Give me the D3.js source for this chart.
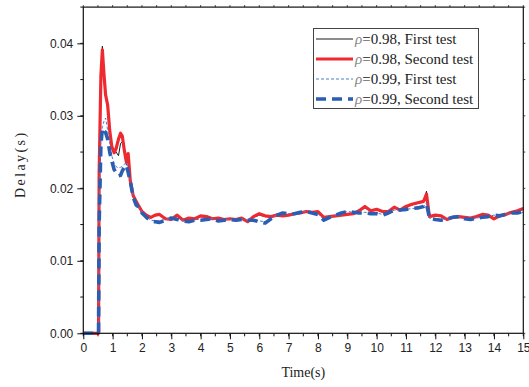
<!DOCTYPE html>
<html>
<head>
<meta charset="utf-8">
<script src="https://cdn.jsdelivr.net/npm/d3@7"></script>
<style>
  html, body { margin: 0; padding: 0; background: #fff; }
  svg { display: block; }
</style>
</head>
<body>
<svg id="chart" width="529" height="387"></svg>
<script>
// Sample times (s)
const time = [0, 0.52, 0.54, 0.6, 0.65, 0.7, 0.76, 0.83, 0.9, 0.97, 1.05, 1.12, 1.2, 1.27, 1.33, 1.4, 1.47, 1.53, 1.6, 1.7, 1.8, 1.9, 2.0, 2.15, 2.3, 2.45, 2.6, 2.8, 3.0, 3.2, 3.4, 3.6, 3.8, 4.0, 4.2, 4.4, 4.6, 4.8, 5.0, 5.2, 5.4, 5.6, 5.8, 6.0, 6.2, 6.4, 6.6, 6.8, 7.0, 7.2, 7.4, 7.6, 7.8, 8.0, 8.2, 8.4, 8.6, 8.8, 9.0, 9.2, 9.4, 9.6, 9.8, 10.0, 10.2, 10.4, 10.6, 10.8, 11.0, 11.2, 11.4, 11.6, 11.7, 11.8, 12.0, 12.2, 12.4, 12.6, 12.8, 13.0, 13.2, 13.4, 13.6, 13.8, 14.0, 14.2, 14.4, 14.6, 14.8, 15.0];

// Delay (s) for rho = 0.98, first test
const rho98First = [0, 0, 0.023, 0.036, 0.0396, 0.0362, 0.0330, 0.0310, 0.0276, 0.0255, 0.0248, 0.0250, 0.0245, 0.0262, 0.0264, 0.0250, 0.0232, 0.0243, 0.0208, 0.0188, 0.0180, 0.0173, 0.0167, 0.0162, 0.0159, 0.0162, 0.0163, 0.0157, 0.0157, 0.0162, 0.0156, 0.0158, 0.0158, 0.0161, 0.0160, 0.0158, 0.0158, 0.0157, 0.0158, 0.0157, 0.0158, 0.0155, 0.0160, 0.0163, 0.0161, 0.0161, 0.0163, 0.0162, 0.0163, 0.0164, 0.0166, 0.0167, 0.0167, 0.0167, 0.0160, 0.0161, 0.0162, 0.0163, 0.0164, 0.0165, 0.0168, 0.0173, 0.0169, 0.0170, 0.0168, 0.0168, 0.0173, 0.0170, 0.0174, 0.0177, 0.0179, 0.0181, 0.0196, 0.0161, 0.0162, 0.0161, 0.0157, 0.0160, 0.0160, 0.0160, 0.0159, 0.0161, 0.0163, 0.0163, 0.0159, 0.0162, 0.0164, 0.0166, 0.0168, 0.0171];

// Delay (s) for rho = 0.98, second test
const rho98Second = [0, 0, 0.022, 0.0355, 0.0391, 0.0360, 0.0329, 0.0315, 0.0280, 0.0258, 0.0249, 0.0255, 0.0268, 0.0276, 0.0272, 0.0252, 0.0236, 0.0248, 0.0211, 0.0190, 0.0182, 0.0175, 0.0168, 0.0163, 0.0160, 0.0163, 0.0164, 0.0158, 0.0157, 0.0163, 0.0156, 0.0159, 0.0158, 0.0162, 0.0161, 0.0158, 0.0159, 0.0157, 0.0158, 0.0157, 0.0159, 0.0154, 0.0161, 0.0165, 0.0162, 0.0161, 0.0163, 0.0162, 0.0163, 0.0165, 0.0166, 0.0168, 0.0167, 0.0168, 0.0160, 0.0161, 0.0162, 0.0163, 0.0164, 0.0165, 0.0169, 0.0175, 0.0169, 0.0171, 0.0168, 0.0168, 0.0174, 0.0170, 0.0175, 0.0178, 0.0180, 0.0182, 0.0192, 0.0161, 0.0163, 0.0162, 0.0157, 0.0160, 0.0161, 0.0160, 0.0159, 0.0161, 0.0164, 0.0163, 0.0158, 0.0162, 0.0164, 0.0167, 0.0169, 0.0172];

// Delay (s) for rho = 0.99, first test
const rho99First = [0, 0, 0.018, 0.0270, 0.0285, 0.0292, 0.0297, 0.0280, 0.0262, 0.0245, 0.0235, 0.0230, 0.0228, 0.0229, 0.0230, 0.0233, 0.0236, 0.0226, 0.0212, 0.0190, 0.0178, 0.0174, 0.0167, 0.0161, 0.0156, 0.0155, 0.0155, 0.0157, 0.0159, 0.0158, 0.0156, 0.0155, 0.0157, 0.0157, 0.0158, 0.0158, 0.0156, 0.0157, 0.0157, 0.0157, 0.0158, 0.0156, 0.0157, 0.0155, 0.0154, 0.0159, 0.0163, 0.0166, 0.0165, 0.0166, 0.0167, 0.0168, 0.0166, 0.0165, 0.0157, 0.0160, 0.0163, 0.0166, 0.0168, 0.0167, 0.0166, 0.0167, 0.0166, 0.0166, 0.0164, 0.0166, 0.0170, 0.0170, 0.0171, 0.0172, 0.0173, 0.0175, 0.0180, 0.0159, 0.0158, 0.0157, 0.0158, 0.0160, 0.0161, 0.0158, 0.0158, 0.0159, 0.0160, 0.0161, 0.0163, 0.0162, 0.0164, 0.0166, 0.0166, 0.0167];

// Delay (s) for rho = 0.99, second test
const rho99Second = [0, 0, 0.015, 0.0260, 0.0283, 0.0280, 0.0277, 0.0268, 0.0250, 0.0238, 0.0226, 0.0222, 0.0217, 0.0218, 0.0224, 0.0229, 0.0232, 0.0222, 0.0210, 0.0188, 0.0177, 0.0174, 0.0166, 0.0160, 0.0155, 0.0154, 0.0153, 0.0156, 0.0159, 0.0157, 0.0155, 0.0154, 0.0156, 0.0156, 0.0157, 0.0158, 0.0155, 0.0156, 0.0157, 0.0156, 0.0157, 0.0156, 0.0156, 0.0154, 0.0152, 0.0158, 0.0163, 0.0166, 0.0165, 0.0165, 0.0167, 0.0168, 0.0166, 0.0164, 0.0156, 0.0160, 0.0163, 0.0166, 0.0168, 0.0167, 0.0166, 0.0166, 0.0165, 0.0165, 0.0163, 0.0166, 0.0170, 0.0170, 0.0171, 0.0172, 0.0173, 0.0175, 0.0179, 0.0159, 0.0157, 0.0156, 0.0158, 0.0160, 0.0161, 0.0158, 0.0157, 0.0159, 0.0160, 0.0161, 0.0163, 0.0162, 0.0164, 0.0166, 0.0166, 0.0168];

const xTicks = [0, 1, 2, 3, 4, 5, 6, 7, 8, 9, 10, 11, 12, 13, 14, 15];
const yTicks = [0, 0.01, 0.02, 0.03, 0.04];
const seriesNames = ["=0.98, First test", "=0.98, Second test", "=0.99, First test", "=0.99, Second test"];

const series = [
  { name: seriesNames[0], values: rho98First,  color: "#1a1a1a", width: 1,   dash: null },
  { name: seriesNames[1], values: rho98Second, color: "#ee2a30", width: 3.2, dash: null },
  { name: seriesNames[2], values: rho99First,  color: "#4f7cc9", width: 1,   dash: "3,2" },
  { name: seriesNames[3], values: rho99Second, color: "#2b5db3", width: 3.6, dash: "10,6" }
];

const svg = d3.select("#chart");
const plotLeft = 83.3, plotRight = 523.3, plotTop = 7.1, plotBottom = 333.3;

const x = d3.scaleLinear().domain([0, 15]).range([plotLeft, plotRight]);
const y = d3.scaleLinear().domain([0, 0.045]).range([plotBottom, plotTop]);

const tickFont = "'Liberation Sans', Arial, sans-serif";
const serif = "'Liberation Serif', 'Times New Roman', serif";

// Curves
const plot = svg.append("g");
const line = d3.line()
  .x((d, i) => x(time[i]))
  .y(d => y(d));

series.forEach(s => {
  plot.append("path")
    .datum(s.values)
    .attr("d", line)
    .attr("fill", "none")
    .attr("stroke", s.color)
    .attr("stroke-width", s.width)
    .attr("stroke-linejoin", "round")
    .attr("stroke-dasharray", s.dash);
});

// Axes
const xMinor = d3.range(0, 15.01, 0.5);
const yMinor = d3.range(0, 0.0451, 0.005);

const bottomAxis = d3.axisBottom(x).tickValues(xTicks).tickFormat(d3.format("d")).tickSize(6).tickPadding(4);
const leftAxis = d3.axisLeft(y).tickValues(yTicks).tickFormat(d3.format(".2f")).tickSize(6).tickPadding(4);

const gx = svg.append("g").attr("transform", `translate(0,${plotBottom})`).call(bottomAxis);
const gy = svg.append("g").attr("transform", `translate(${plotLeft},0)`).call(leftAxis);

[gx, gy].forEach(g => {
  g.select(".domain").remove();
  g.selectAll("line").attr("stroke", "#111").attr("stroke-width", 1);
  g.selectAll("text").attr("font-family", tickFont).attr("font-size", 12).attr("fill", "#222");
});

// Minor ticks
svg.append("g").selectAll("line").data(xMinor).join("line")
  .attr("x1", d => x(d)).attr("x2", d => x(d))
  .attr("y1", plotBottom).attr("y2", plotBottom + 3)
  .attr("stroke", "#111");
svg.append("g").selectAll("line").data(yMinor).join("line")
  .attr("x1", plotLeft - 3).attr("x2", plotLeft)
  .attr("y1", d => y(d)).attr("y2", d => y(d))
  .attr("stroke", "#111");
// Mirror ticks on top and right
svg.append("g").selectAll("line").data(xMinor).join("line")
  .attr("x1", d => x(d)).attr("x2", d => x(d))
  .attr("y1", plotTop).attr("y2", plotTop - 2)
  .attr("stroke", "#444");
svg.append("g").selectAll("line").data(yMinor).join("line")
  .attr("x1", plotRight).attr("x2", plotRight + 2)
  .attr("y1", d => y(d)).attr("y2", d => y(d))
  .attr("stroke", "#444");

// Frame
svg.append("rect")
  .attr("x", plotLeft).attr("y", plotTop)
  .attr("width", plotRight - plotLeft).attr("height", plotBottom - plotTop)
  .attr("fill", "none").attr("stroke", "#111").attr("stroke-width", 1.2);

// Axis titles
svg.append("text")
  .attr("x", x(7.5)).attr("y", 377)
  .attr("text-anchor", "middle")
  .attr("font-family", serif).attr("font-size", 14).attr("fill", "#222")
  .text("Time(s)");

svg.append("text")
  .attr("transform", `translate(25,${(plotTop + plotBottom) / 2 - 6}) rotate(-90)`)
  .attr("text-anchor", "middle")
  .attr("font-family", serif).attr("font-size", 14).attr("fill", "#222")
  .attr("letter-spacing", 2.4)
  .text("Delay(s)");

// Legend
const lg = svg.append("g");
lg.append("rect")
  .attr("x", 313.5).attr("y", 28.5).attr("width", 165).attr("height", 80)
  .attr("fill", "#fff").attr("stroke", "#444").attr("stroke-width", 1);

series.forEach((s, i) => {
  const yy = 39 + i * 20;
  lg.append("line")
    .attr("x1", 316).attr("x2", 353)
    .attr("y1", yy).attr("y2", yy)
    .attr("stroke", s.color)
    .attr("stroke-width", s.width)
    .attr("stroke-dasharray", s.dash);
  const t = lg.append("text")
    .attr("x", 355).attr("y", yy + 5)
    .attr("font-family", serif).attr("font-size", 15).attr("fill", "#222");
  t.append("tspan").attr("font-style", "italic").attr("fill", "#888").text("ρ");
  t.append("tspan").text(s.name);
});
</script>
</body>
</html>
